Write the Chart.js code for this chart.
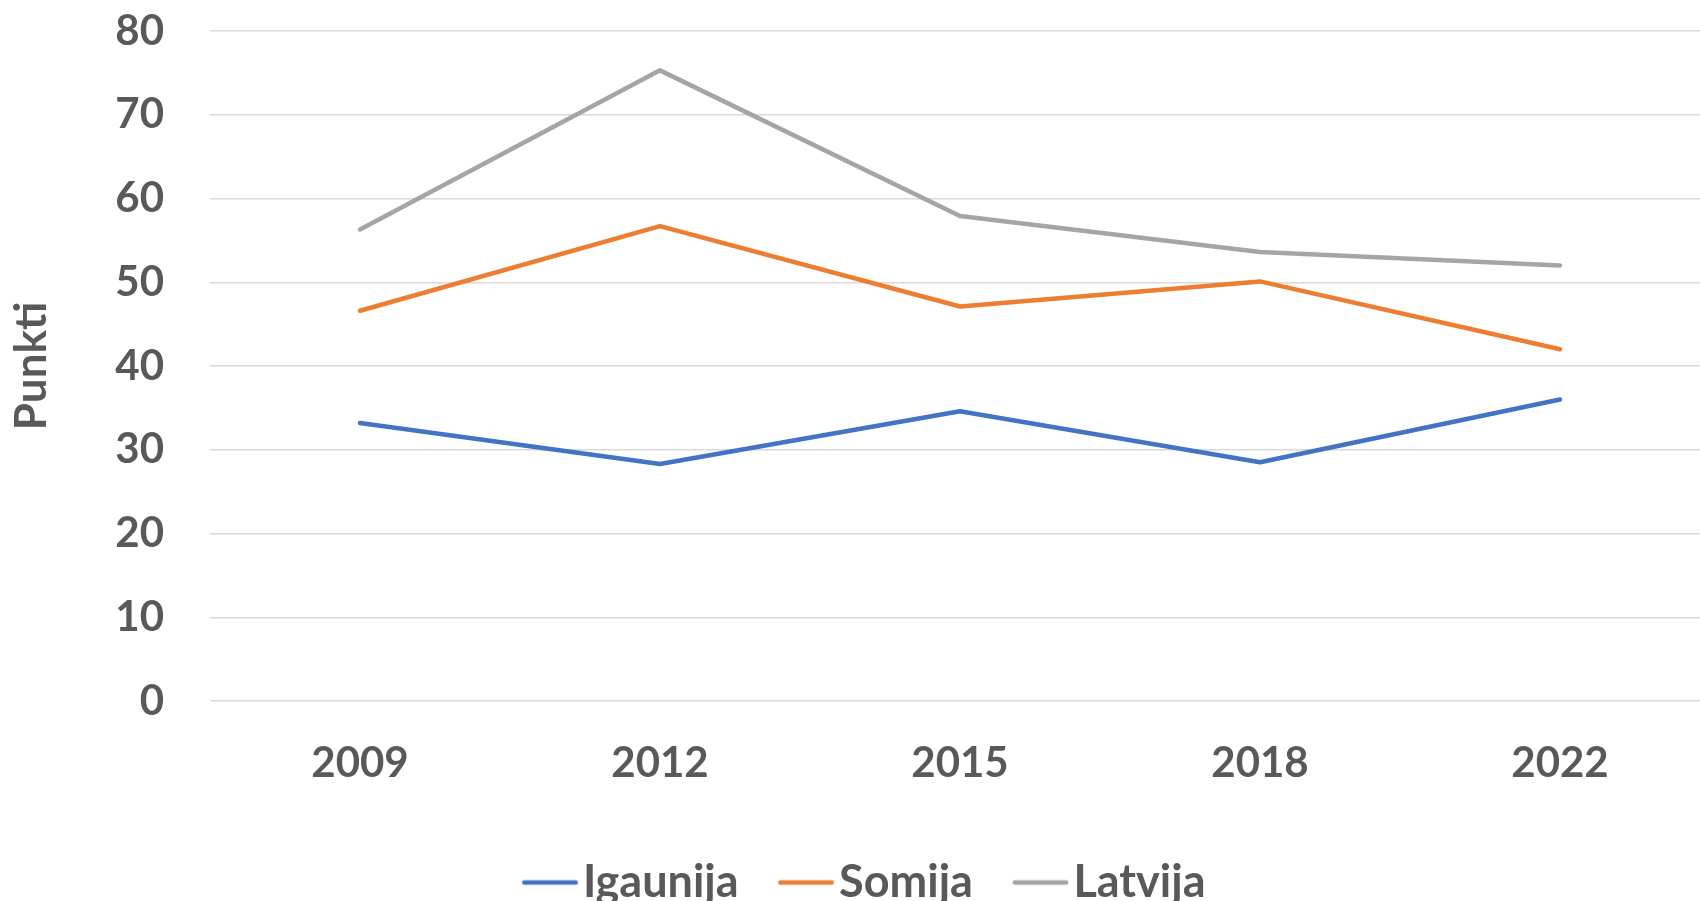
<!DOCTYPE html>
<html>
<head>
<meta charset="utf-8">
<script src="https://cdn.jsdelivr.net/npm/chart.js@4"></script>
<style>
  html, body { margin: 0; padding: 0; background: #fff; overflow: hidden; }
  #wrap { width: 1710px; height: 901px; }
</style>
</head>
<body>
<div id="wrap"><canvas id="myChart" width="1710" height="901"></canvas></div>
<script>
var years = ["2009", "2012", "2015", "2018", "2022"];
var igaunija = [33.2, 28.3, 34.6, 28.5, 36.0];
var somija = [46.6, 56.7, 47.1, 50.1, 42.0];
var latvija = [56.3, 75.3, 57.9, 53.6, 52.0];
var yTicks = [0, 10, 20, 30, 40, 50, 60, 70, 80];

var textColor = "#595959";
var font = "Lato, 'Open Sans', sans-serif";

// legend marker: short line that sits close to its text
function legendLine(color) {
  var c = document.createElement("canvas");
  c.width = 160;
  c.height = 10;
  var g = c.getContext("2d");
  g.strokeStyle = color;
  g.lineWidth = 4.5;
  g.lineCap = "round";
  g.beginPath();
  g.moveTo(71.75, 5);
  g.lineTo(123.25, 5);
  g.stroke();
  return c;
}

function series(label, data, color) {
  return {
    label: label,
    data: data,
    borderColor: color,
    backgroundColor: color,
    borderWidth: 4.5,
    borderCapStyle: "round",
    borderJoinStyle: "round",
    pointRadius: 0,
    pointHoverRadius: 0,
    pointStyle: legendLine(color),
    tension: 0,
  };
}

var ctx = document.getElementById("myChart").getContext("2d");

var myChart = new Chart(ctx, {
  type: "line",
  data: {
    labels: years,
    datasets: [
      series("Igaunija", igaunija, "#4472C4"),
      series("Somija", somija, "#ED7D31"),
      series("Latvija", latvija, "#A5A5A5"),
    ],
  },
  options: {
    responsive: false,
    animation: false,
    layout: { padding: { top: 31, left: 0, right: 0, bottom: -14 } },
    plugins: {
      tooltip: { enabled: false },
      legend: {
        position: "bottom",
        labels: {
          usePointStyle: true,
          pointStyleWidth: 56,
          padding: 22,
          color: textColor,
          font: { family: font, size: 45, weight: "bold" },
        },
      },
    },
    scales: {
      x: {
        offset: true,
        grid: { display: false },
        border: { display: false },
        ticks: {
          color: textColor,
          padding: 29,
          font: { family: font, size: 42, weight: "bold" },
        },
        afterFit: function (scale) {
          scale.height = 137;
        },
      },
      y: {
        min: 0,
        max: 80,
        afterBuildTicks: function (scale) {
          scale.ticks = yTicks.map(function (v) { return { value: v }; });
        },
        grid: {
          color: "#D9D9D9",
          lineWidth: 1.5,
          drawTicks: true,
          tickLength: 46,
          tickColor: "rgba(0,0,0,0)",
        },
        border: { display: false },
        ticks: {
          color: textColor,
          padding: 0,
          font: { family: font, size: 42, weight: "bold", lineHeight: 1 },
        },
        title: {
          display: true,
          text: "Punkti",
          color: textColor,
          padding: { top: 5, bottom: 0 },
          font: { family: font, size: 44, weight: "bold" },
        },
        afterFit: function (scale) {
          scale.width = 210;
        },
      },
    },
  },
});
</script>
</body>
</html>
